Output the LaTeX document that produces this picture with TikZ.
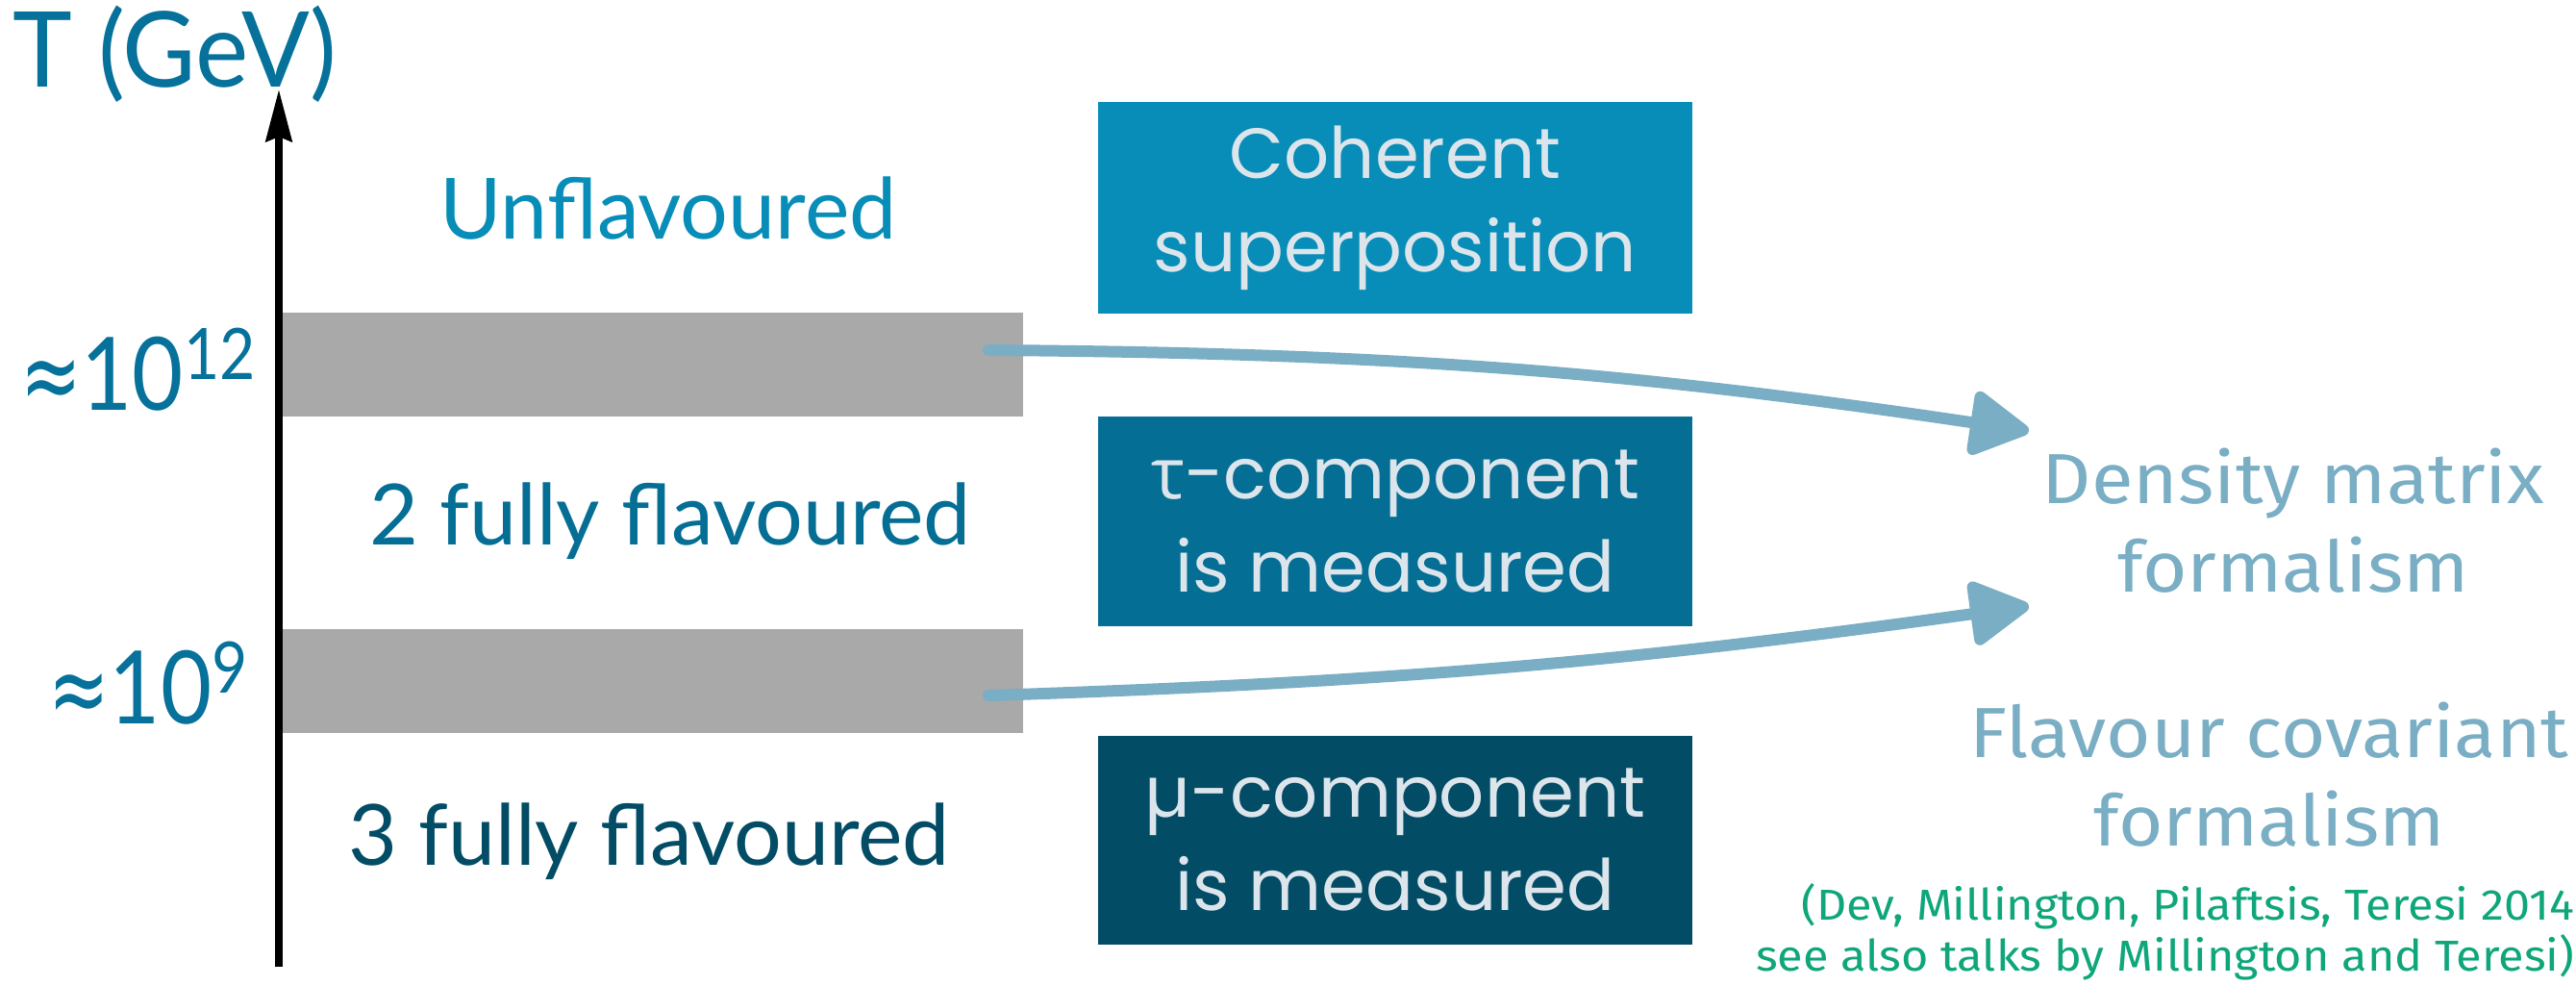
\documentclass[tikz,border=0pt]{standalone}
\usepackage{fontspec}
\usepackage{tikz}
\usetikzlibrary{arrows.meta, positioning}

\newfontfamily\labelfont{Lato}
\newfontfamily\axisfont{Lato}[FakeStretch=0.96]
\newfontfamily\powfont{Lato}[FakeStretch=0.87]
\newfontfamily\boxfont{Poppins}
\newfontfamily\greekfont{Open Sans}
\newfontfamily\notefont{Fira Sans}[FakeStretch=1.08]
\newfontfamily\symfont{DejaVu Sans}[FakeStretch=0.72]

\definecolor{axisblue}{HTML}{06719A}
\definecolor{lightblue}{HTML}{078DB7}
\definecolor{midblue}{HTML}{056E95}
\definecolor{darkblue}{HTML}{034C66}
\definecolor{boxtext}{HTML}{DCE5EB}
\definecolor{bargray}{HTML}{A9A9A9}
\definecolor{flowblue}{HTML}{7AAEC4}
\definecolor{citegreen}{HTML}{0EA67A}

\begin{document}
\begin{tikzpicture}[x=1cm, y=1cm,
		bar/.style={fill=bargray, minimum width=7.74cm, minimum height=1.08cm, inner sep=0pt},
		axislabel/.style={text=axisblue, font=\axisfont\fontsize{31}{34}\selectfont, inner sep=0pt},
		power/.style={text=axisblue, font=\powfont\fontsize{30}{34}\selectfont, inner sep=0pt, anchor=east},
		level/.style={font=\labelfont\fontsize{25}{30}\selectfont, inner sep=0pt},
		levelbox/.style={minimum width=6.18cm, minimum height=2.18cm, text=boxtext, align=center, inner sep=0pt, font=\boxfont\fontsize{21}{27.6}\selectfont},
		formal/.style={text=flowblue, align=center, inner sep=0pt, font=\notefont\fontsize{21}{26.2}\selectfont},
		flow/.style={draw=flowblue, line width=0.12cm, line cap=round, -{Triangle[length=0.68cm, width=0.72cm, round]}}]
		\useasboundingbox (0,0) rectangle (26.79,-10.25);
		
		% temperature bands
		\node[bar] (bar12) at (6.77,-3.785) {};
		\node[bar] (bar9) at (6.77,-7.08) {};
		\coordinate (axbot) at (2.90,-10.05); \coordinate (axtop) at (2.90,-0.93);
		\draw[line width=0.075cm, -{Stealth[length=0.54cm, width=0.27cm, inset=0.05cm]}] (axbot) -- (axtop);
		\node[axislabel] (tgev) at (1.82,-0.56) {T (GeV)};
		\node[power] (t12) at (2.68,-3.84) {{\symfont ≈}10\textsuperscript{12}};
		\node[power] (t9) at (2.60,-7.10) {{\symfont ≈}10\textsuperscript{9}};
		
		% regimes
		\node[level, text=lightblue] (unfl) at (6.95,-2.17) {Unflavoured};
		\node[level, text=midblue] (two) at (6.97,-5.42) {2 fully flavoured};
		\node[level, text=darkblue] (three) at (6.75,-8.75) {3 fully flavoured};
		
		\node[levelbox, fill=lightblue, minimum height=2.20cm] (coh) at (14.51,-2.16) {Coherent\\superposition};
		\node[levelbox, fill=midblue] (tau) at (14.51,-5.42) {{\greekfont τ}-component\\is measured};
		\node[levelbox, fill=darkblue, minimum height=2.17cm] (mu) at (14.51,-8.735) {µ-component\\is measured};
		
		% formalisms
		\node[formal] (dens) at (23.85,-5.41) {Density matrix\\formalism};
		\node[formal] (flcov) at (23.60,-8.05) {Flavour covariant\\formalism};
		\node[anchor=south east, align=right, inner sep=0pt, text=citegreen, font=\notefont\fontsize{12.8}{15.2}\selectfont] (cite) at (26.78,-10.20) {(Dev, Millington, Pilaftsis, Teresi 2014\\see also talks by Millington and Teresi)};
		
		\coordinate (s12) at (10.28,-3.64); \coordinate (e12) at (21.10,-4.48);
		\coordinate (s9) at (10.28,-7.23); \coordinate (e9) at (21.10,-6.30);
		\draw[flow] (s12) to[bend left=4] (e12);
		\draw[flow] (s9) to[bend right=3] (e9);
	\end{tikzpicture}
\end{document}
